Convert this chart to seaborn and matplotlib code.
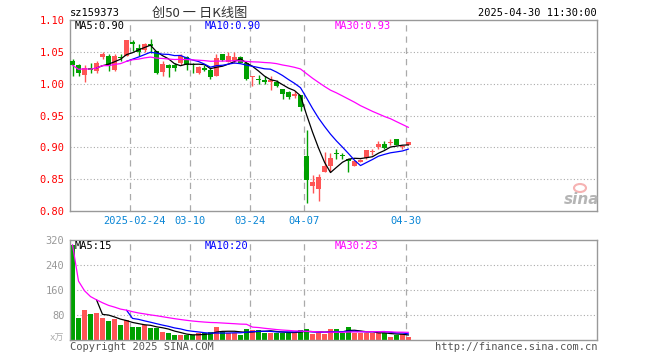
import matplotlib
matplotlib.use("Agg")
import matplotlib.pyplot as plt
from matplotlib.patches import Ellipse
import seaborn as sns
import pandas as pd
import numpy as np

# daily K data, 2025-02-10 .. 2025-04-30 (57 trading days)
opens = [1.035, 1.029, 1.014, 1.025, 1.020, 1.042, 1.044, 1.021, 1.042, 1.044,
         1.066, 1.056, 1.053, 1.063, 1.052, 1.018, 1.030, 1.030, 1.033, 1.042,
         1.031, 1.016, 1.025, 1.022, 1.012, 1.047, 1.034, 1.035, 1.042, 1.033,
         1.010, 1.0075, 1.005, 1.003, 1.003, 0.991, 0.987, 0.981, 0.982, 0.887,
         0.840, 0.835, 0.861, 0.871, 0.890, 0.887, 0.882, 0.871, 0.8776, 0.883,
         0.893, 0.900, 0.906, 0.907, 0.913, 0.900, 0.904]
closes = [1.029, 1.016, 1.025, 1.021, 1.032, 1.047, 1.028, 1.044, 1.041, 1.068,
          1.062, 1.050, 1.063, 1.059, 1.017, 1.031, 1.025, 1.025, 1.043, 1.030,
          1.029, 1.026, 1.022, 1.011, 1.041, 1.037, 1.043, 1.042, 1.033, 1.007,
          1.011, 1.0065, 1.002, 1.005, 0.996, 0.983, 0.979, 0.983, 0.964, 0.848,
          0.846, 0.854, 0.871, 0.883, 0.889, 0.886, 0.878, 0.878, 0.8807, 0.896,
          0.8935, 0.906, 0.899, 0.908, 0.903, 0.901, 0.908]
highs = [1.038, 1.031, 1.029, 1.032, 1.035, 1.050, 1.047, 1.047, 1.046, 1.068,
         1.068, 1.062, 1.064, 1.070, 1.052, 1.035, 1.031, 1.033, 1.046, 1.044,
         1.033, 1.028, 1.029, 1.025, 1.047, 1.047, 1.050, 1.050, 1.043, 1.035,
         1.012, 1.013, 1.012, 1.012, 1.006, 0.992, 0.989, 0.989, 0.982, 0.927,
         0.856, 0.858, 0.892, 0.891, 0.897, 0.891, 0.882, 0.879, 0.882, 0.896,
         0.897, 0.910, 0.910, 0.913, 0.913, 0.904, 0.908]
lows = [1.012, 1.012, 1.003, 1.017, 1.017, 1.039, 1.020, 1.020, 1.035, 1.044,
        1.051, 1.043, 1.050, 1.048, 1.015, 1.012, 1.011, 1.020, 1.030, 1.022,
        1.017, 1.015, 1.020, 1.007, 1.012, 1.035, 1.034, 1.033, 1.033, 1.006,
        0.996, 1.000, 1.000, 0.990, 0.994, 0.976, 0.976, 0.978, 0.957, 0.812,
        0.828, 0.815, 0.861, 0.861, 0.882, 0.882, 0.862, 0.870, 0.877, 0.882,
        0.888, 0.898, 0.898, 0.903, 0.903, 0.898, 0.904]
volumes = [305, 72, 96, 83, 87, 72, 61, 66, 48, 64,
           42, 42, 48, 39, 40, 27, 21, 16, 16, 15,
           15, 21, 23, 26, 42, 26, 23, 23, 16, 35,
           32, 32, 24, 24, 24, 24, 24, 24, 32, 35,
           19, 21, 19, 35, 35, 21, 42, 23, 23, 23,
           23, 23, 23, 11, 16, 19, 11]

tick_pos = [10, 20, 30, 39, 56]
tick_labels = ["2025-02-24", "03-10", "03-24", "04-07", "04-30"]
price_ticks = [0.80, 0.85, 0.90, 0.95, 1.00, 1.05, 1.10]
vol_ticks = [80, 160, 240, 320]

RED = "#ff5555"
GREEN = "#00a000"
GRID = "#aaaaaa"
FRAME = "#999999"

sns.set_theme(style="white")
plt.rcParams["font.family"] = ["DejaVu Sans Mono", "Noto Sans CJK SC"]
plt.rcParams["font.size"] = 7.5

df = pd.DataFrame({"o": opens, "c": closes, "h": highs, "l": lows, "vol": volumes})
df["i"] = np.arange(len(df))
df["dir"] = np.where(df["c"] >= df["o"], "up", "down")
for n in (5, 10):
    df[f"ma{n}"] = df["c"].rolling(n).mean()
    df[f"vma{n}"] = df["vol"].rolling(n).mean()
df["ma30"] = df["c"].rolling(30, min_periods=1).mean()
df["vma30"] = df["vol"].rolling(30, min_periods=1).mean()
colors = df["dir"].map({"up": RED, "down": GREEN})

W, H = 660, 360


def px(x, y):
    return x / W, 1 - y / H


fig = plt.figure(figsize=(6.6, 3.6), dpi=100)
ax = fig.add_axes([70 / W, 149 / H, 527 / W, 191 / H])
axv = fig.add_axes([70 / W, 20 / H, 527 / W, 100 / H])
xlim = (-2.5 / 6, (597 - 72.5) / 6)

# grid
for y in price_ticks[1:-1]:
    ax.axhline(y, color=GRID, lw=0.8, ls=(0, (1, 2)), zorder=0)
for y in vol_ticks[:-1]:
    axv.axhline(y, color=GRID, lw=0.8, ls=(0, (1, 2)), zorder=0)
for p in tick_pos:
    for a in (ax, axv):
        a.axvline(p - 2.5 / 6, color=GRID, lw=0.9, ls=(0, (5, 4)), zorder=0)

# candles
ax.vlines(df["i"], df["l"], df["h"], colors=colors, lw=1, zorder=2)
body = (df["c"] - df["o"]).abs().clip(lower=0.0016)
ax.bar(df["i"], body, bottom=df[["o", "c"]].min(axis=1), width=0.83,
       color=colors, linewidth=0, zorder=3)
sns.lineplot(data=df, x="i", y="ma5", color="black", lw=0.9, ax=ax, zorder=4)
sns.lineplot(data=df, x="i", y="ma10", color="blue", lw=0.9, ax=ax, zorder=4)
sns.lineplot(data=df, x="i", y="ma30", color="#ff00ff", lw=0.9, ax=ax, zorder=4)

# volume
sns.barplot(data=df, x="i", y="vol", hue="dir", palette={"up": RED, "down": GREEN},
            dodge=False, native_scale=True, width=0.83, saturation=1,
            errorbar=None, legend=False, linewidth=0, ax=axv, zorder=2)
sns.lineplot(data=df, x="i", y="vma5", color="black", lw=0.9, ax=axv, zorder=4)
sns.lineplot(data=df, x="i", y="vma10", color="blue", lw=0.9, ax=axv, zorder=4)
sns.lineplot(data=df, x="i", y="vma30", color="#ff00ff", lw=0.9, ax=axv, zorder=4)

ax.set_xlim(*xlim)
ax.set_ylim(0.80, 1.10)
axv.set_xlim(*xlim)
axv.set_ylim(0, 320)

for a in (ax, axv):
    a.set_xlabel("")
    a.set_ylabel("")
    a.set_xticks([])
    for s in a.spines.values():
        s.set_visible(True)
        s.set_color(FRAME)
        s.set_linewidth(1.0)

ax.set_yticks(price_ticks)
ax.set_yticklabels([f"{v:.2f}" for v in price_ticks])
ax.tick_params(axis="y", length=0, pad=4, labelcolor="red", labelsize=7.5)
axv.set_yticks(vol_ticks)
axv.set_yticklabels([str(v) for v in vol_ticks])
axv.tick_params(axis="y", length=0, pad=4, labelcolor="#999999", labelsize=7.5)

# date labels under the price panel
for p, lab in zip(tick_pos, tick_labels):
    xp = 70 + 6 * p + (4 if len(lab) > 5 else 0)
    fig.text(*px(xp, 221), lab, color="#0a86d6", ha="center", va="center")

# header texts
fig.text(*px(70, 13), "sz159373", va="center", color="black")
fig.text(*px(200, 13), "创50 一 日K线图", ha="center", va="center", color="#333333",
         fontsize=9.5, family=["Noto Sans CJK SC", "DejaVu Sans"])
fig.text(*px(597, 13), "2025-04-30 11:30:00", ha="right", va="center", color="black")

# moving average legends
fig.text(*px(75, 26), "MA5:0.90", va="center", color="black")
fig.text(*px(205, 26), "MA10:0.90", va="center", color="blue")
fig.text(*px(335, 26), "MA30:0.93", va="center", color="#ff00ff")
fig.text(*px(75, 246), "MA5:15", va="center", color="black")
fig.text(*px(205, 246), "MA10:20", va="center", color="blue")
fig.text(*px(335, 246), "MA30:23", va="center", color="#ff00ff")

fig.text(*px(64, 338), "x万", ha="right", va="center", color="#aaaaaa", fontsize=6.5)

# footer
fig.text(*px(70, 347), "Copyright 2025 SINA.COM", va="center", color="#555555")
fig.text(*px(597, 347), "http://finance.sina.com.cn", ha="right", va="center", color="#555555")

# sina watermark
fig.text(*px(582, 200), "sina", ha="center", va="center", color="#b5b5b5",
         fontsize=11, fontweight="bold", style="italic", family="DejaVu Sans")
fig.patches.append(Ellipse(px(580, 188), 12 / W, 8 / H, transform=fig.transFigure,
                           facecolor="none", edgecolor="#f4a0a0", lw=1.5, alpha=0.8))

fig.savefig("out.png", dpi=100)
plt.close(fig)
